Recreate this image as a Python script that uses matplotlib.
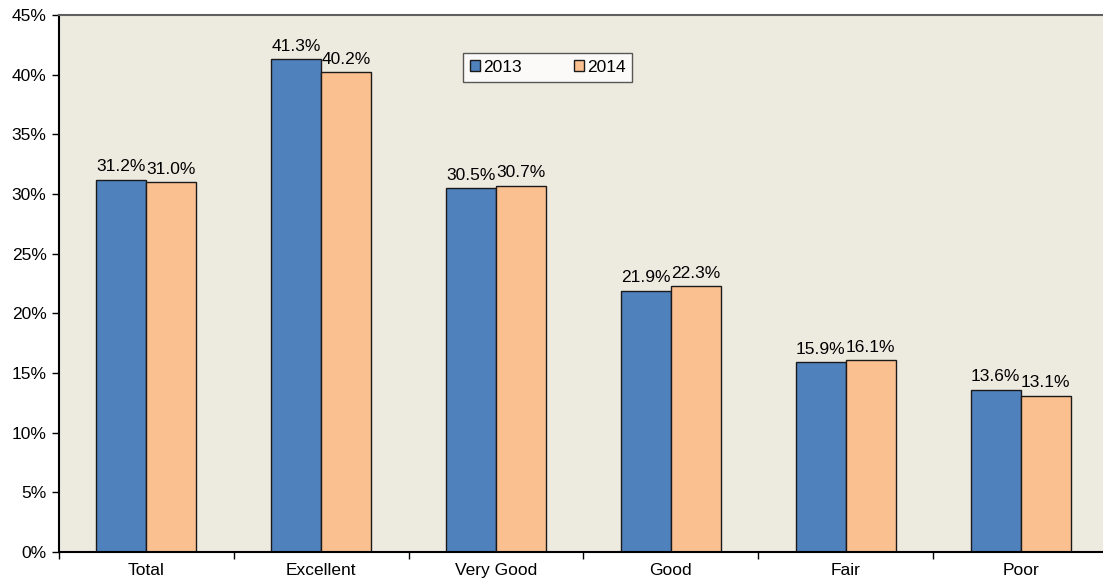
import numpy as np
import matplotlib.pyplot as plt
from matplotlib.ticker import FuncFormatter

categories = ["Total", "Excellent", "Very Good", "Good", "Fair", "Poor"]
vals_2013 = [31.2, 41.3, 30.5, 21.9, 15.9, 13.6]
vals_2014 = [31.0, 40.2, 30.7, 22.3, 16.1, 13.1]
series_names = ["2013", "2014"]

plt.rcParams['font.family'] = ['Liberation Sans', 'DejaVu Sans']
fs = 12.5

fig = plt.figure(figsize=(11.03, 5.82), dpi=100)
W, H = 1103, 582
ax = fig.add_axes([59/W, 1 - 552/H, 1049/W, (552 - 15)/H])
ax.set_facecolor('#EDEAE0')

x = np.arange(len(categories))
w = 0.286
b1 = ax.bar(x - w/2, vals_2013, w, color='#4F81BD', edgecolor='#1a1a1a', linewidth=1, label=series_names[0])
b2 = ax.bar(x + w/2, vals_2014, w, color='#FAC090', edgecolor='#1a1a1a', linewidth=1, label=series_names[1])

# value labels above each bar
for bars, vals in ((b1, vals_2013), (b2, vals_2014)):
    for rect, v in zip(bars, vals):
        ax.text(rect.get_x() + rect.get_width()/2, v + 0.45, f"{v:.1f}%",
                ha='center', va='bottom', fontsize=fs)

ax.set_xlim(-0.5, len(categories) - 0.5)
ax.set_ylim(0, 45)
ax.set_yticks(np.arange(0, 46, 5))
ax.yaxis.set_major_formatter(FuncFormatter(lambda v, p: f"{int(v)}%"))
ax.set_xticks(x)
ax.set_xticklabels(categories)
ax.set_xticks(np.arange(-0.5, len(categories), 1), minor=True)
ax.tick_params(axis='x', which='major', length=0, pad=8, labelsize=fs)
ax.tick_params(axis='x', which='minor', length=5, width=1, direction='out')
ax.tick_params(axis='y', length=5, width=1, direction='out', labelsize=fs, pad=4)

ax.spines['left'].set_linewidth(1.5)
ax.spines['bottom'].set_linewidth(1.5)
ax.spines['top'].set_color('#606060')
ax.spines['top'].set_linewidth(1.5)
ax.spines['right'].set_visible(False)

leg = ax.legend(loc='upper left', bbox_to_anchor=((463 - 59)/1049, 1 - (53 - 15)/537),
                ncol=2, frameon=True, fancybox=False, fontsize=fs,
                handlelength=0.6, handleheight=0.6, handletextpad=0.15,
                columnspacing=3.0, borderpad=0.4, borderaxespad=0)
leg.get_frame().set_edgecolor('#303030')
leg.get_frame().set_linewidth(1)

fig.savefig('out.png', dpi=100)
